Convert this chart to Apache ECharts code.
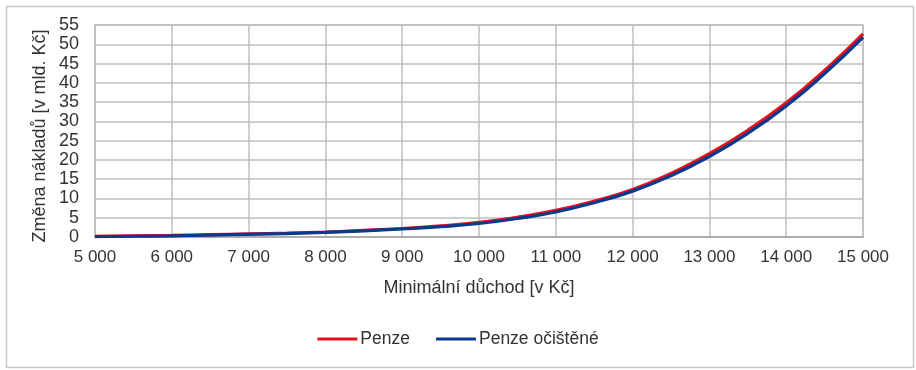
<!DOCTYPE html>
<html>
<head>
<meta charset="utf-8">
<script src="https://cdn.jsdelivr.net/npm/echarts@6/dist/echarts.min.js"></script>
<style>
html,body{margin:0;padding:0;background:#fff;}
#c{width:916px;height:370px;}
</style>
</head>
<body>
<div id="c"></div>
<script>
const xValues = [5000,5500,6000,6500,7000,7500,8000,8500,9000,9500,10000,10500,11000,11500,12000,12500,13000,13500,14000,14500,15000];
const penze = [0.2,0.3,0.4,0.6,0.8,1.0,1.3,1.7,2.2,2.9,3.8,5.1,6.9,9.3,12.3,16.5,21.6,27.7,34.8,43.2,52.7];
const penzeOcistene = [0.1,0.2,0.3,0.5,0.7,0.9,1.2,1.6,2.1,2.7,3.5,4.8,6.5,8.9,11.9,15.9,20.9,26.9,34.0,42.4,51.8];
const seriesNames = ['Penze','Penze očištěné'];
const xAxisTitle = 'Minimální důchod [v Kč]';
const yAxisTitle = 'Změna nákladů [v mld. Kč]';

const font = 'Liberation Sans, Arial, sans-serif';
const txt = '#333333';
const chart = echarts.init(document.getElementById('c'));
chart.setOption({
  animation: false,
  backgroundColor: '#fff',
  graphic: [{
    type: 'rect', left: 4, top: 4, silent: true,
    shape: {x: 0, y: 0, width: 907, height: 361},
    style: {fill: 'none', stroke: '#c8c8c8', lineWidth: 1.5}
  }, {
    type: 'text', x: 40, y: 136, rotation: Math.PI / 2, silent: true,
    style: {text: yAxisTitle, font: '18px ' + font, fill: txt,
      textAlign: 'center', textVerticalAlign: 'middle'}
  }],
  grid: {left: 95, right: 53, top: 25, bottom: 133, show: true, borderColor: '#bfbfbf', borderWidth: 1.5},
  legend: {
    bottom: 17, left: 'center',
    icon: 'rect', itemWidth: 40, itemHeight: 3, itemGap: 26,
    textStyle: {fontFamily: font, fontSize: 17.5, color: txt, padding: [0,0,0,-2]},
    data: seriesNames
  },
  xAxis: {
    type: 'value', min: 5000, max: 15000, interval: 1000,
    name: xAxisTitle, nameLocation: 'middle', nameGap: 42,
    nameTextStyle: {fontFamily: font, fontSize: 18, color: txt},
    axisLine: {show: true, lineStyle: {color: '#a6a6a6', width: 1.5}},
    axisTick: {show: false},
    axisLabel: {fontFamily: font, fontSize: 17, color: txt, margin: 12,
      formatter: v => String(v).replace(/\B(?=(\d{3})+(?!\d))/g, ' ')},
    splitLine: {show: true, lineStyle: {color: '#bfbfbf', width: 1.5}}
  },
  yAxis: {
    type: 'value', min: 0, max: 55, interval: 5,
    axisLine: {show: true, lineStyle: {color: '#bfbfbf', width: 1.5}},
    axisTick: {show: false},
    axisLabel: {fontFamily: font, fontSize: 18, color: txt, margin: 16},
    splitLine: {show: true, lineStyle: {color: '#bfbfbf', width: 1.5}}
  },
  series: [
    {name: seriesNames[0], type: 'line', smooth: true, showSymbol: false,
     color: '#e8101a', lineStyle: {width: 3.2, color: '#e8101a'},
     data: xValues.map((x,i) => [x, penze[i]])},
    {name: seriesNames[1], type: 'line', smooth: true, showSymbol: false,
     color: '#0a3a8c', lineStyle: {width: 3.2, color: '#0a3a8c'},
     data: xValues.map((x,i) => [x, penzeOcistene[i]])}
  ]
});
</script>
</body>
</html>
